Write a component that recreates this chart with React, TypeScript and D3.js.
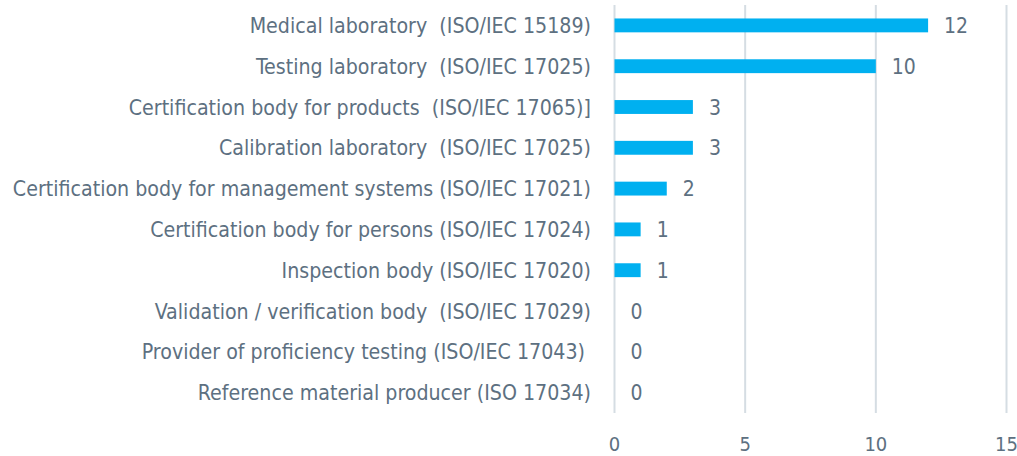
import React from "react";
import * as d3 from "d3";

const categories = [
  "Medical laboratory  (ISO/IEC 15189)",
  "Testing laboratory  (ISO/IEC 17025)",
  "Certification body for products  (ISO/IEC 17065)]",
  "Calibration laboratory  (ISO/IEC 17025)",
  "Certification body for management systems (ISO/IEC 17021)",
  "Certification body for persons (ISO/IEC 17024)",
  "Inspection body (ISO/IEC 17020)",
  "Validation / verification body  (ISO/IEC 17029)",
  "Provider of proficiency testing (ISO/IEC 17043) ",
  "Reference material producer (ISO 17034)",
];
const values = [12, 10, 3, 3, 2, 1, 1, 0, 0, 0];
const xTicks = [0, 5, 10, 15];

const W = 1017;
const H = 456;
const FONT = "'DejaVu Sans Condensed', 'Liberation Sans Narrow', sans-serif";
const TEXT = "#5d7081";

export default function App() {
  const x = d3.scaleLinear().domain([0, 15]).range([614.5, 1006.5]);
  const y = d3.scaleBand<string>().domain(categories).range([5, 413]).paddingInner(0.66).paddingOuter(0.33);
  return (
    <svg width={W} height={H} style={{ position: "absolute", left: 0, top: 0, background: "#fff" }}>
      {xTicks.map((t) => (
        <g key={t}>
          <line x1={x(t)} x2={x(t)} y1={5} y2={413} stroke="#d5dde3" strokeWidth={2} />
          <text x={x(t)} y={451} textAnchor="middle" fontFamily={FONT} fontSize={20} fill={TEXT}>
            {t}
          </text>
        </g>
      ))}
      {categories.map((c, i) => {
        const yc = (y(c) as number) + y.bandwidth() / 2;
        const v = values[i];
        return (
          <g key={c}>
            {v > 0 && (
              <rect x={x(0)} y={y(c)} width={x(v) - x(0)} height={y.bandwidth()} fill="#00b0f0" />
            )}
            <text x={591} y={yc + 7.5} textAnchor="end" fontFamily={FONT} fontSize={21.2} fill={TEXT} style={{ whiteSpace: "pre" }}>
              {c}
            </text>
            <text x={x(v) + 16} y={yc + 7.5} fontFamily={FONT} fontSize={21} fill={TEXT}>
              {v}
            </text>
          </g>
        );
      })}
    </svg>
  );
}
